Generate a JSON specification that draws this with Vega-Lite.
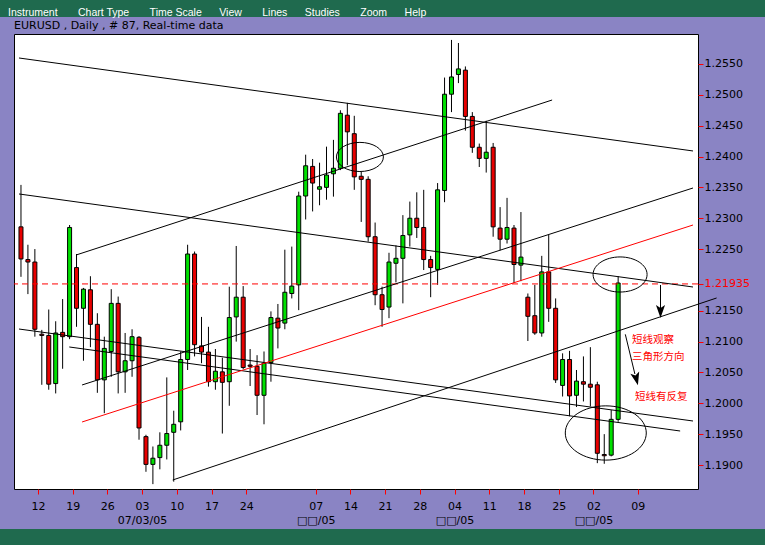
{
  "$schema": "https://vega.github.io/schema/vega-lite/v6.json",
  "background": "#8A84C4",
  "padding": 0,
  "spacing": 17,
  "bounds": "flush",
  "config": {"axis": {"labelOverlap": false}},
  "datasets": {
    "candles": [
      {"day":0,"open":1.2286,"high":1.2354,"low":1.2205,"close":1.2234},
      {"day":1,"open":1.2233,"high":1.2257,"low":1.2177,"close":1.2229},
      {"day":2,"open":1.2229,"high":1.2250,"low":1.2108,"close":1.2120},
      {"day":3,"open":1.2112,"high":1.2119,"low":1.2030,"close":1.2110},
      {"day":4,"open":1.2110,"high":1.2152,"low":1.2022,"close":1.2031},
      {"day":5,"open":1.2032,"high":1.2133,"low":1.2016,"close":1.2114},
      {"day":6,"open":1.2115,"high":1.2169,"low":1.2056,"close":1.2108},
      {"day":7,"open":1.2108,"high":1.2289,"low":1.2104,"close":1.2285},
      {"day":8,"open":1.2220,"high":1.2242,"low":1.2124,"close":1.2154},
      {"day":9,"open":1.2154,"high":1.2187,"low":1.2069,"close":1.2185},
      {"day":10,"open":1.2184,"high":1.2206,"low":1.2091,"close":1.2128},
      {"day":11,"open":1.2128,"high":1.2146,"low":1.2017,"close":1.2038},
      {"day":12,"open":1.2038,"high":1.2108,"low":1.1984,"close":1.2089},
      {"day":13,"open":1.2084,"high":1.2185,"low":1.2043,"close":1.2162},
      {"day":14,"open":1.2162,"high":1.2173,"low":1.2016,"close":1.2051},
      {"day":15,"open":1.2051,"high":1.2114,"low":1.2017,"close":1.2069},
      {"day":16,"open":1.2069,"high":1.2120,"low":1.2043,"close":1.2108},
      {"day":17,"open":1.2107,"high":1.2109,"low":1.1941,"close":1.1960},
      {"day":18,"open":1.1946,"high":1.1949,"low":1.1889,"close":1.1901},
      {"day":19,"open":1.1901,"high":1.1930,"low":1.1869,"close":1.1911},
      {"day":20,"open":1.1912,"high":1.1953,"low":1.1893,"close":1.1932},
      {"day":21,"open":1.1932,"high":1.2042,"low":1.1909,"close":1.1951},
      {"day":22,"open":1.1953,"high":1.1988,"low":1.1873,"close":1.1966},
      {"day":23,"open":1.1970,"high":1.2084,"low":1.1956,"close":1.2071},
      {"day":24,"open":1.2071,"high":1.2257,"low":1.2054,"close":1.2242},
      {"day":25,"open":1.2242,"high":1.2246,"low":1.2076,"close":1.2095},
      {"day":26,"open":1.2093,"high":1.2140,"low":1.2065,"close":1.2083},
      {"day":27,"open":1.2083,"high":1.2124,"low":1.2027,"close":1.2035},
      {"day":28,"open":1.2035,"high":1.2088,"low":1.2022,"close":1.2052},
      {"day":29,"open":1.2051,"high":1.2074,"low":1.1951,"close":1.2034},
      {"day":30,"open":1.2035,"high":1.2189,"low":1.1996,"close":1.2139},
      {"day":31,"open":1.2140,"high":1.2255,"low":1.2100,"close":1.2172},
      {"day":32,"open":1.2172,"high":1.2190,"low":1.2055,"close":1.2058},
      {"day":33,"open":1.2062,"high":1.2088,"low":1.2028,"close":1.2060},
      {"day":34,"open":1.2060,"high":1.2078,"low":1.1981,"close":1.2013},
      {"day":35,"open":1.2013,"high":1.2084,"low":1.1966,"close":1.2065},
      {"day":36,"open":1.2066,"high":1.2149,"low":1.2035,"close":1.2139},
      {"day":37,"open":1.2138,"high":1.2161,"low":1.2089,"close":1.2122},
      {"day":38,"open":1.2130,"high":1.2249,"low":1.2120,"close":1.2180},
      {"day":39,"open":1.2178,"high":1.2254,"low":1.2170,"close":1.2190},
      {"day":40,"open":1.2192,"high":1.2343,"low":1.2151,"close":1.2336},
      {"day":41,"open":1.2336,"high":1.2403,"low":1.2298,"close":1.2385},
      {"day":42,"open":1.2384,"high":1.2396,"low":1.2311,"close":1.2357},
      {"day":43,"open":1.2347,"high":1.2390,"low":1.2321,"close":1.2351},
      {"day":44,"open":1.2350,"high":1.2416,"low":1.2330,"close":1.2370},
      {"day":45,"open":1.2372,"high":1.2427,"low":1.2335,"close":1.2381},
      {"day":46,"open":1.2381,"high":1.2475,"low":1.2378,"close":1.2470},
      {"day":47,"open":1.2467,"high":1.2487,"low":1.2386,"close":1.2440},
      {"day":48,"open":1.2437,"high":1.2466,"low":1.2346,"close":1.2367},
      {"day":49,"open":1.2368,"high":1.2375,"low":1.2294,"close":1.2363},
      {"day":50,"open":1.2363,"high":1.2368,"low":1.2262,"close":1.2270},
      {"day":51,"open":1.2270,"high":1.2293,"low":1.2159,"close":1.2176},
      {"day":52,"open":1.2176,"high":1.2189,"low":1.2124,"close":1.2152},
      {"day":53,"open":1.2156,"high":1.2244,"low":1.2138,"close":1.2229},
      {"day":54,"open":1.2227,"high":1.2256,"low":1.2196,"close":1.2235},
      {"day":55,"open":1.2235,"high":1.2305,"low":1.2162,"close":1.2272},
      {"day":56,"open":1.2273,"high":1.2327,"low":1.2254,"close":1.2300},
      {"day":57,"open":1.2300,"high":1.2342,"low":1.2268,"close":1.2285},
      {"day":58,"open":1.2285,"high":1.2346,"low":1.2216,"close":1.2233},
      {"day":59,"open":1.2233,"high":1.2239,"low":1.2172,"close":1.2220},
      {"day":60,"open":1.2217,"high":1.2357,"low":1.2192,"close":1.2346},
      {"day":61,"open":1.2345,"high":1.2528,"low":1.2326,"close":1.2501},
      {"day":62,"open":1.2501,"high":1.2589,"low":1.2472,"close":1.2529},
      {"day":63,"open":1.2533,"high":1.2584,"low":1.2519,"close":1.2542},
      {"day":64,"open":1.2540,"high":1.2546,"low":1.2442,"close":1.2465},
      {"day":65,"open":1.2465,"high":1.2472,"low":1.2406,"close":1.2415},
      {"day":66,"open":1.2415,"high":1.2421,"low":1.2383,"close":1.2397},
      {"day":67,"open":1.2397,"high":1.2458,"low":1.2374,"close":1.2407},
      {"day":68,"open":1.2415,"high":1.2422,"low":1.2270,"close":1.2286},
      {"day":69,"open":1.2284,"high":1.2318,"low":1.2248,"close":1.2266},
      {"day":70,"open":1.2266,"high":1.2333,"low":1.2259,"close":1.2285},
      {"day":71,"open":1.2284,"high":1.2289,"low":1.2195,"close":1.2225},
      {"day":72,"open":1.2224,"high":1.2310,"low":1.2198,"close":1.2237},
      {"day":73,"open":1.2172,"high":1.2178,"low":1.2101,"close":1.2141},
      {"day":74,"open":1.2142,"high":1.2192,"low":1.2111,"close":1.2114},
      {"day":75,"open":1.2114,"high":1.2239,"low":1.2108,"close":1.2213},
      {"day":76,"open":1.2213,"high":1.2273,"low":1.2132,"close":1.2154},
      {"day":77,"open":1.2154,"high":1.2170,"low":1.2033,"close":1.2038},
      {"day":78,"open":1.2029,"high":1.2081,"low":1.2011,"close":1.2071},
      {"day":79,"open":1.2071,"high":1.2085,"low":1.1979,"close":1.2012},
      {"day":80,"open":1.2013,"high":1.2054,"low":1.1994,"close":1.2036},
      {"day":81,"open":1.2035,"high":1.2076,"low":1.2003,"close":1.2031},
      {"day":82,"open":1.2031,"high":1.2091,"low":1.1995,"close":1.2026},
      {"day":83,"open":1.2030,"high":1.2035,"low":1.1903,"close":1.1919},
      {"day":84,"open":1.1917,"high":1.1950,"low":1.1902,"close":1.1915},
      {"day":85,"open":1.1916,"high":1.1989,"low":1.1914,"close":1.1974},
      {"day":86,"open":1.1974,"high":1.2206,"low":1.1970,"close":1.2195}
    ],
    "lines": [
      {"day":-0.284,"price":1.25597,"day2":96.78,"price2":1.2409},
      {"day":7.947,"price":1.22404,"day2":76.49,"price2":1.24916},
      {"day":-0.284,"price":1.23393,"day2":96.78,"price2":1.21885},
      {"day":8.798,"price":1.20297,"day2":96.78,"price2":1.2349},
      {"day":21.85,"price":1.18757,"day2":100.18,"price2":1.21707},
      {"day":-0.284,"price":1.21204,"day2":96.78,"price2":1.19713},
      {"day":6.953,"price":1.20913,"day2":94.93,"price2":1.19551}
    ],
    "redline": [{"day":8.798,"price":1.19697,"day2":96.78,"price2":1.2289}],
    "level": [{"price":1.21935}],
    "arrows": [
      {"day":92.10,"price":1.21918,"day2":92.10,"price2":1.21496},
      {"day":87.03,"price":1.21118,"day2":88.41,"price2":1.20475}
    ],
    "notes": [
      {"day":87.98,"price":1.21026,"label":"短线观察"},
      {"day":87.98,"price":1.2075,"label":"三角形方向"},
      {"day":88.41,"price":1.2011,"label":"短线有反复"}
    ]
  },
  "vconcat": [
    {
      "width": 765,
      "height": 17,
      "view": {"fill": "#1F6A4E", "stroke": null},
      "data": {"values": [{"menu": "Instrument\u00a0\u00a0\u00a0\u00a0\u00a0\u00a0\u00a0Chart Type\u00a0\u00a0\u00a0\u00a0\u00a0\u00a0\u00a0Time Scale\u00a0\u00a0\u00a0\u00a0\u00a0\u00a0View\u00a0\u00a0\u00a0\u00a0\u00a0\u00a0\u00a0Lines\u00a0\u00a0\u00a0\u00a0\u00a0\u00a0Studies\u00a0\u00a0\u00a0\u00a0\u00a0\u00a0\u00a0Zoom\u00a0\u00a0\u00a0\u00a0\u00a0\u00a0Help"}]},
      "mark": {"type": "text", "align": "left", "baseline": "alphabetic", "dy": 7.5, "color": "#FFFFFF", "font": "Liberation Sans", "fontSize": 10.5},
      "encoding": {"text": {"field": "menu"}, "x": {"value": 8}}
    },
    {
      "spacing": 13,
      "bounds": "flush",
      "hconcat": [
        {"width": 1, "height": 455, "view": {"stroke": null}, "data": {"values": []}, "mark": "text"},
        {
          "width": 684,
          "height": 455,
          "view": {"fill": "#FFFFFF", "stroke": "#000000", "strokeWidth": 1},
          "title": {"text": "EURUSD , Daily , # 87, Real-time data", "anchor": "start", "frame": "group", "offset": -6, "baseline": "alphabetic", "font": "DejaVu Sans", "fontSize": 11, "fontWeight": "normal", "color": "#000000"},
          "resolve": {"axis": {"x": "independent", "y": "independent"}},
          "layer": [
            {
              "data": {"name": "candles"},
              "mark": {"type": "rule", "color": "#000000", "strokeWidth": 1},
              "encoding": {
                "x": {"field": "day", "type": "quantitative", "title": null,
                  "scale": {"domain": [-0.284, 96.78], "nice": false, "zero": false},
                  "axis": {"orient": "bottom", "values": [2.44,7.44,12.44,17.44,22.44,27.44,32.44,42.44,47.44,52.44,57.44,62.44,67.44,72.44,77.44,82.44,88.83],
                    "labelExpr": "['12','19','26',['03','07/03/05'],'10','17','24',['07','\u25a1\u25a1/05'],'14','21','28',['04','\u25a1\u25a1/05'],'11','18','25',['02','\u25a1\u25a1/05'],'09'][indexof([2.44,7.44,12.44,17.44,22.44,27.44,32.44,42.44,47.44,52.44,57.44,62.44,67.44,72.44,77.44,82.44,88.83], datum.value)]",
                    "tickSize": 5, "tickColor": "#FF0000", "labelPadding": 6, "labelLineHeight": 14,
                    "labelOverlap": false, "labelFlush": false, "labelBound": false, "domain": false, "grid": false,
                    "labelFont": "DejaVu Sans", "labelFontSize": 11, "labelColor": "#000000"}},
                "y": {"field": "low", "type": "quantitative", "title": null,
                  "scale": {"domain": [1.18611, 1.25986], "nice": false, "zero": false},
                  "axis": {"orient": "right", "values": [1.19,1.195,1.2,1.205,1.21,1.215,1.21935,1.225,1.23,1.235,1.24,1.245,1.25,1.255],
                    "labelExpr": "abs(datum.value-1.21935)<0.000001 ? '1.21935' : format(datum.value,'.4f')",
                    "labelColor": {"condition": {"test": "abs(datum.value-1.21935)<0.000001", "value": "#FF0000"}, "value": "#000000"},
                    "tickSize": 5, "tickColor": "#FF0000", "labelPadding": 1, "labelOverlap": false, "labelFlush": false, "labelBound": false,
                    "labelSeparation": 0, "domain": false, "grid": false, "labelFont": "DejaVu Sans", "labelFontSize": 11}},
                "y2": {"field": "high"}
              }
            },
            {
              "data": {"name": "candles"},
              "mark": {"type": "bar", "size": 4, "stroke": "#000000", "strokeWidth": 1},
              "encoding": {
                "x": {"field": "day", "type": "quantitative", "title": null, "axis": null},
                "y": {"field": "open", "type": "quantitative", "title": null, "axis": null},
                "y2": {"field": "close"},
                "color": {"condition": {"test": "datum.close >= datum.open", "value": "#00E000"}, "value": "#E80000"}
              }
            },
            {
              "data": {"name": "level"},
              "mark": {"type": "rule", "color": "#FF0000", "strokeWidth": 1, "strokeDash": [6, 4]},
              "encoding": {"y": {"field": "price", "type": "quantitative", "title": null, "axis": null}}
            },
            {
              "data": {"name": "lines"},
              "mark": {"type": "rule", "color": "#000000", "strokeWidth": 1},
              "encoding": {
                "x": {"field": "day", "type": "quantitative", "title": null, "axis": null},
                "y": {"field": "price", "type": "quantitative", "title": null, "axis": null},
                "x2": {"field": "day2"},
                "y2": {"field": "price2"}
              }
            },
            {
              "data": {"name": "redline"},
              "mark": {"type": "rule", "color": "#FF0000", "strokeWidth": 1},
              "encoding": {
                "x": {"field": "day", "type": "quantitative", "title": null, "axis": null},
                "y": {"field": "price", "type": "quantitative", "title": null, "axis": null},
                "x2": {"field": "day2"},
                "y2": {"field": "price2"}
              }
            },
            {
              "data": {"values": [{"day": 48.81, "price": 1.23993}]},
              "mark": {"type": "point", "shape": "M -1 0 A 1 0.62 0 1 1 1 0 A 1 0.62 0 1 1 -1 0 Z", "size": 2209, "filled": false, "stroke": "#000000", "strokeWidth": 1, "opacity": 1},
              "encoding": {"x": {"field": "day", "type": "quantitative", "title": null, "axis": null}, "y": {"field": "price", "type": "quantitative", "title": null, "axis": null}}
            },
            {
              "data": {"values": [{"day": 86.28, "price": 1.22088}]},
              "mark": {"type": "point", "shape": "M -1 0 A 1 0.65 0 1 1 1 0 A 1 0.65 0 1 1 -1 0 Z", "size": 2916, "filled": false, "stroke": "#000000", "strokeWidth": 1, "opacity": 1},
              "encoding": {"x": {"field": "day", "type": "quantitative", "title": null, "axis": null}, "y": {"field": "price", "type": "quantitative", "title": null, "axis": null}}
            },
            {
              "data": {"values": [{"day": 84.22, "price": 1.19519}]},
              "mark": {"type": "point", "shape": "M -1 0 A 1 0.67 0 1 1 1 0 A 1 0.67 0 1 1 -1 0 Z", "size": 6561, "filled": false, "stroke": "#000000", "strokeWidth": 1, "opacity": 1},
              "encoding": {"x": {"field": "day", "type": "quantitative", "title": null, "axis": null}, "y": {"field": "price", "type": "quantitative", "title": null, "axis": null}}
            },
            {
              "data": {"name": "arrows"},
              "mark": {"type": "rule", "color": "#000000", "strokeWidth": 1},
              "encoding": {
                "x": {"field": "day", "type": "quantitative", "title": null, "axis": null},
                "y": {"field": "price", "type": "quantitative", "title": null, "axis": null},
                "x2": {"field": "day2"},
                "y2": {"field": "price2"}
              }
            },
            {
              "data": {"values": [{"day": 92.10, "price": 1.21488}]},
              "mark": {"type": "point", "shape": "M -0.7 -1 L 0 -0.55 L 0.7 -1 L 0 1 Z", "size": 169, "filled": true, "color": "#000000", "opacity": 1},
              "encoding": {"x": {"field": "day", "type": "quantitative", "title": null, "axis": null}, "y": {"field": "price", "type": "quantitative", "title": null, "axis": null}}
            },
            {
              "data": {"values": [{"day": 88.62, "price": 1.20394}]},
              "mark": {"type": "point", "shape": "M -0.7 -1 L 0 -0.55 L 0.7 -1 L 0 1 Z", "size": 169, "angle": -14, "filled": true, "color": "#000000", "opacity": 1},
              "encoding": {"x": {"field": "day", "type": "quantitative", "title": null, "axis": null}, "y": {"field": "price", "type": "quantitative", "title": null, "axis": null}}
            },
            {
              "data": {"name": "notes"},
              "mark": {"type": "text", "align": "left", "baseline": "middle", "color": "#FF0000", "font": "Noto Sans CJK SC", "fontSize": 10.5},
              "encoding": {
                "x": {"field": "day", "type": "quantitative", "title": null, "axis": null},
                "y": {"field": "price", "type": "quantitative", "title": null, "axis": null},
                "text": {"field": "label"}
              }
            }
          ]
        }
      ]
    },
    {"width": 1, "height": 461, "view": {"stroke": null}, "data": {"values": []}, "mark": "text"},
    {
      "width": 765,
      "height": 16,
      "view": {"fill": "#1F6A4E", "stroke": null},
      "data": {"values": []},
      "mark": "text"
    }
  ]
}
